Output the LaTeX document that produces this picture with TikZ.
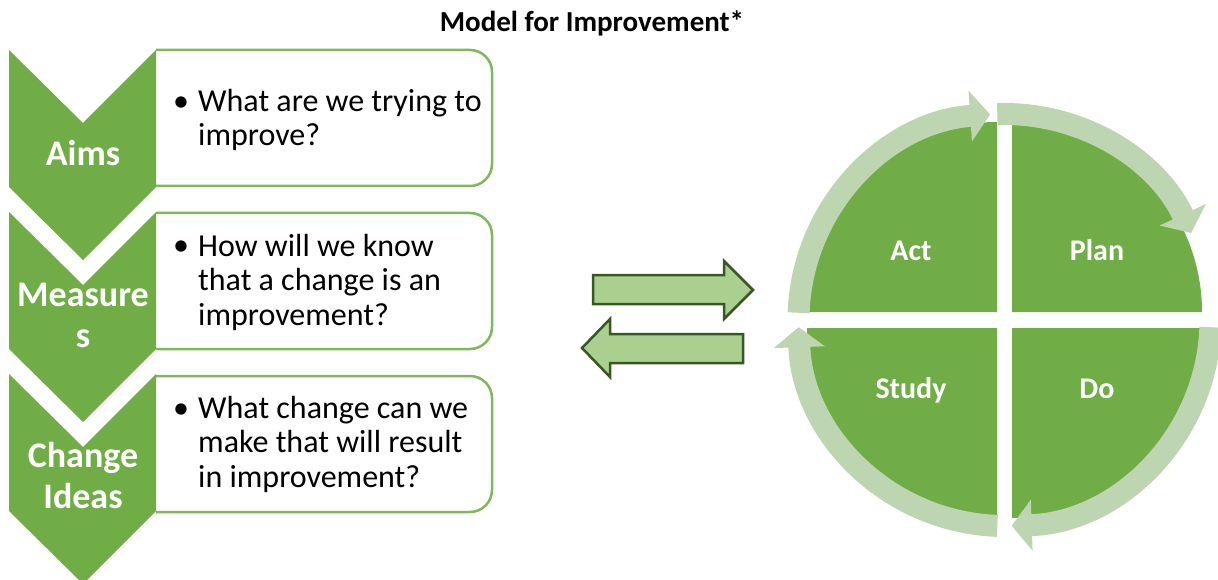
\documentclass[tikz,border=0pt]{standalone}
\usepackage{fontspec}
\setmainfont{Carlito}
\usetikzlibrary{arrows.meta}
\definecolor{pdsagreen}{RGB}{112,173,71}
\definecolor{ringgreen}{RGB}{189,214,177}
\definecolor{boxline}{RGB}{128,183,92}
\definecolor{swapfill}{RGB}{169,208,142}
\definecolor{swapline}{RGB}{56,87,35}
\tikzset{
  chevron/.style={fill=pdsagreen},
  qbox/.style={draw=boxline, line width=2.5pt, rounded corners=22pt},
  qtext/.style={font=\fontsize{32}{34.5}\selectfont, align=left, inner sep=0pt, anchor=base west},
  qbullet/.style={font=\fontsize{32}{34.5}\selectfont, inner sep=0pt, anchor=base},
  steplabel/.style={font=\bfseries\fontsize{36}{40.5}\selectfont, text=white, align=center, inner sep=0pt, anchor=base},
  quadrant/.style={fill=pdsagreen},
  quadlabel/.style={font=\bfseries\fontsize{30}{36}\selectfont, text=white, inner sep=0pt, anchor=base},
  ring/.style={draw=ringgreen, line width=22pt, -{Triangle[width=50pt,length=20pt]}},
  swaparrow/.style={fill=swapfill, draw=swapline, line width=2.5pt, line join=miter},
}
\begin{document}
\begin{tikzpicture}[x=1pt, y=-1pt]
  \useasboundingbox (0,0) rectangle (1218,580);

  % title
  \node[font=\bfseries\fontsize{29}{34}\selectfont, anchor=base, inner sep=0pt] (title) at (592,32) {Model for Improvement*};

  % question boxes
  \draw[qbox] (156,50) -- (492,50) -- (492,186) -- (156,186);
  \draw[qbox] (156,213) -- (492,213) -- (492,349) -- (156,349);
  \draw[qbox] (156,376) -- (492,376) -- (492,512) -- (156,512);

  % chevrons
  \foreach \y in {50,212,374}
    \fill[chevron] (9,\y) -- (83,\y+73) -- (156,\y) -- (156,\y+137) -- (83,\y+210) -- (9,\y+137) -- cycle;

  % labels sit on the baseline of their last line
  \node[steplabel] (aims) at (83,166) {Aims};
  \node[steplabel] (measures) at (83,347) {Measure\\s};
  \node[steplabel] (ideas) at (83,508) {Change\\Ideas};

  \node[qbullet] (b1) at (181,112) {\textbullet};
  \node[qtext] (q1) at (198,146) {What are we trying to\\improve?};
  \node[qbullet] (b2) at (181,255) {\textbullet};
  \node[qtext] (q2) at (198,325) {How will we know\\that a change is an\\improvement?};
  \node[qbullet] (b3) at (181,418) {\textbullet};
  \node[qtext] (q3) at (198,487) {What change can we\\make that will result\\in improvement?};

  % swap arrows
  \draw[swaparrow] (593,275) -- (724,275) -- (724,261) -- (753,290) -- (724,319) -- (724,304) -- (593,304) -- cycle;
  \draw[swaparrow] (743,334) -- (610,334) -- (610,319) -- (582,348) -- (610,377) -- (610,363) -- (743,363) -- cycle;

  % PDSA cycle
  \coordinate (C) at (1004.5,320);
  \fill[quadrant] (997,312) -- ++(-190,0) arc[start angle=180, end angle=270, radius=190] -- cycle;
  \fill[quadrant] (1012,312) -- ++(0,-190) arc[start angle=270, end angle=360, radius=190] -- cycle;
  \fill[quadrant] (1012,328) -- ++(190,0) arc[start angle=0, end angle=90, radius=190] -- cycle;
  \fill[quadrant] (997,328) -- ++(0,190) arc[start angle=90, end angle=180, radius=190] -- cycle;

  \draw[ring] (C) ++(-178:206) arc[start angle=-178, end angle=-94, radius=206];
  \draw[ring] (C) ++(-92:206) arc[start angle=-92, end angle=-25, radius=206];
  \draw[ring] (C) ++(2:206) arc[start angle=2, end angle=88, radius=206];
  \draw[ring] (C) ++(92:206) arc[start angle=92, end angle=178, radius=206];

  \node[quadlabel] (act) at (911,260) {Act};
  \node[quadlabel] (plan) at (1097,260) {Plan};
  \node[quadlabel] (study) at (911,398) {Study};
  \node[quadlabel] (do) at (1097,398) {Do};
\end{tikzpicture}
\end{document}
